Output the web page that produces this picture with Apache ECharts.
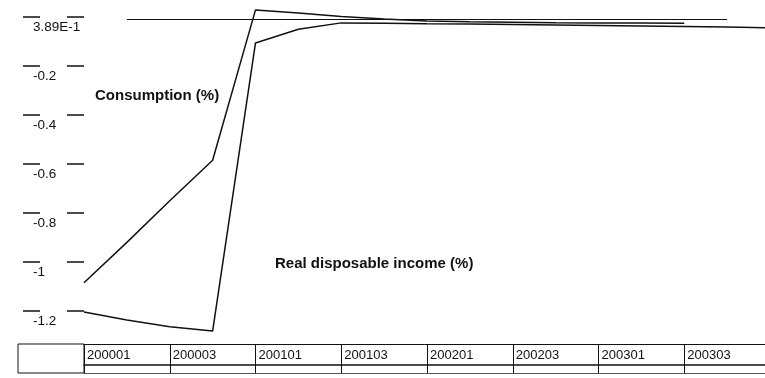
<!DOCTYPE html>
<html>
<head>
<meta charset="utf-8">
<script src="https://cdn.jsdelivr.net/npm/echarts@6/dist/echarts.min.js"></script>
<style>
  html, body { margin: 0; padding: 0; background: #fff; }
  #chart { width: 765px; height: 378px; }
</style>
</head>
<body>
<div id="chart"></div>
<script>
// quarters, yyyyqq
const quarters = ['200001', '200002', '200003', '200004', '200101', '200102', '200103', '200104',
    '200201', '200202', '200203', '200204', '200301', '200302', '200303', '200304', '200401'];

const consumption = [-1.085, -0.92, -0.75, -0.585, 0.029, 0.016, 0.002, -0.008,
    -0.016, -0.019, -0.021, -0.023, -0.024, -0.025, -0.026, null, null];

const income = [-1.204, -1.237, -1.265, -1.282, -0.106, -0.05, -0.024, -0.026,
    -0.028, -0.029, -0.031, -0.033, -0.035, -0.037, -0.039, -0.041, -0.044];

const yTicks = [0, -0.2, -0.4, -0.6, -0.8, -1, -1.2];
const yTickLabels = ['3.89E-1', '-0.2', '-0.4', '-0.6', '-0.8', '-1', '-1.2'];

const baseLine = -0.008;

const ink = '#111';
const yMin = -1.335, yMax = 0.0694;

let myChart = null;

function tableAxis(offset, width, color) {
    return {
        type: 'category',
        data: quarters,
        boundaryGap: false,
        position: 'bottom',
        offset: offset,
        axisLine: { onZero: false, lineStyle: { color: color, width: width } },
        axisTick: { show: false },
        axisLabel: { show: false }
    };
}

function initChart() {
    myChart = echarts.init(document.getElementById('chart'));

    const option = {
        animation: false,
        backgroundColor: '#fff',
        textStyle: { fontFamily: 'Liberation Sans, Arial, sans-serif' },
        grid: { left: 84, width: 686, top: 0, height: 344, containLabel: false, outerBoundsMode: 'none' },
        xAxis: [{
            type: 'category',
            data: quarters,
            boundaryGap: false,
            position: 'bottom',
            axisLine: { onZero: false, lineStyle: { color: ink, width: 1 } },
            axisTick: { interval: 1, length: 29, lineStyle: { color: ink } },
            axisLabel: {
                interval: 1,
                align: 'left',
                margin: 5,
                padding: [0, 0, 0, 3],
                fontSize: 13,
                color: ink,
                formatter: (v, i) => (i === quarters.length - 1 ? '' : v)
            },
            splitLine: { show: false }
        }, tableAxis(21, 1.5, ink), tableAxis(29, 1, '#555')],
        yAxis: [{
            type: 'value',
            min: yMin,
            max: yMax,
            axisLine: { show: false },
            splitLine: { show: false },
            axisTick: {
                show: true,
                length: 17,
                customValues: yTicks,
                lineStyle: { color: ink, width: 1.5 }
            },
            axisLabel: {
                customValues: yTicks,
                align: 'left',
                verticalAlign: 'top',
                margin: 51,
                padding: [3, 0, 0, 0],
                fontSize: 13.5,
                color: ink,
                formatter: v => {
                    const i = yTicks.findIndex(t => Math.abs(t - v) < 1e-6);
                    return i >= 0 ? yTickLabels[i] : '';
                }
            }
        }, {
            type: 'value',
            min: yMin,
            max: yMax,
            position: 'left',
            offset: 44,
            axisLine: { show: false },
            splitLine: { show: false },
            axisTick: {
                show: true,
                length: 17,
                customValues: yTicks,
                lineStyle: { color: ink, width: 1.5 }
            },
            axisLabel: { show: false }
        }],
        graphic: [{
            type: 'rect',
            shape: { x: 18, y: 344, width: 66, height: 29 },
            style: { fill: 'none', stroke: ink, lineWidth: 1 }
        }, {
            type: 'text',
            left: 95,
            top: 88,
            style: {
                text: 'Consumption (%)',
                font: 'bold 15px Liberation Sans, Arial, sans-serif',
                fill: ink
            }
        }, {
            type: 'text',
            left: 275,
            top: 256,
            style: {
                text: 'Real disposable income (%)',
                font: 'bold 15px Liberation Sans, Arial, sans-serif',
                fill: ink
            }
        }],
        series: [{
            name: 'Consumption (%)',
            type: 'line',
            data: consumption,
            symbol: 'none',
            lineStyle: { color: ink, width: 1.5 },
            markLine: {
                silent: true,
                symbol: 'none',
                label: { show: false },
                lineStyle: { color: ink, width: 1.2, type: 'solid' },
                data: [[
                    { coord: [quarters[1], baseLine] },
                    { coord: [quarters[15], baseLine] }
                ]]
            }
        }, {
            name: 'Real disposable income (%)',
            type: 'line',
            data: income,
            symbol: 'none',
            lineStyle: { color: ink, width: 1.5 }
        }]
    };

    myChart.setOption(option);
}

window.addEventListener('resize', () => {
    if (myChart) myChart.resize();
});

window.onload = initChart;
</script>
</body>
</html>
